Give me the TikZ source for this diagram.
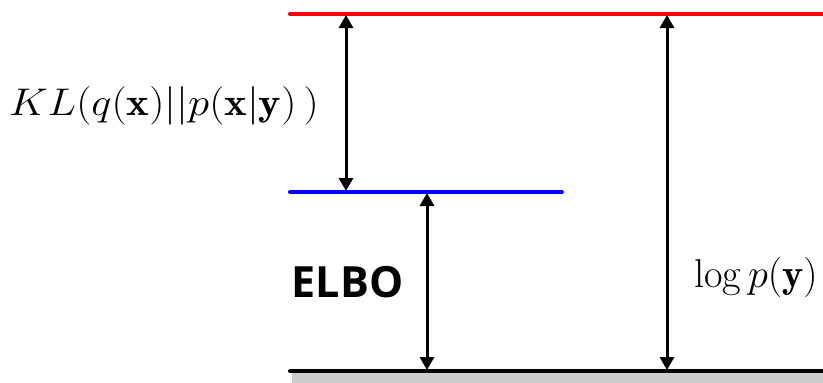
\documentclass[tikz,border=0pt]{standalone}
\usepackage{fontspec}
\newfontfamily\elbofont{Open Sans}
\usetikzlibrary{arrows.meta}
\begin{document}
\begin{tikzpicture}[x=1pt,y=-1pt,
  level/.style={line width=4pt,line cap=round},
  dimarrow/.style={line width=3pt,{Triangle[length=13pt,width=14pt]}-{Triangle[length=13pt,width=14pt]}, shorten <=1pt, shorten >=1pt},
  lbl/.style={inner sep=0pt,anchor=base}]
\useasboundingbox (0,0) rectangle (823,383);
\fill[gray!40] (292,373) rectangle (823,383);
\coordinate (rL) at (290,14); \coordinate (rR) at (823,14);
\coordinate (bL) at (290,192); \coordinate (bR) at (562,192);
\coordinate (gL) at (290,371); \coordinate (gR) at (823,371);
\draw[level,red] (rL) -- (rR);
\draw[level,blue] (bL) -- (bR);
\draw[level,black] (gL) -- (gR);
\coordinate (a1t) at (346,14); \coordinate (a1b) at (346,192);
\coordinate (a2t) at (427,192); \coordinate (a2b) at (427,371);
\coordinate (a3t) at (667,14); \coordinate (a3b) at (667,371);
\draw[dimarrow] (a1t) -- (a1b);
\draw[dimarrow] (a2t) -- (a2b);
\draw[dimarrow] (a3t) -- (a3b);
\node[lbl] (kl) at (164,115) {\scalebox{1.72}[1.55]{\Huge$KL(q(\mathbf{x})||p(\mathbf{x}|\mathbf{y})\,)$}};
\node[lbl] (elbo) at (347.5,297) {\fontsize{43}{50}\selectfont\elbofont\bfseries ELBO};
\node[lbl] (logp) at (756,287) {\scalebox{1.62}{\Huge$\log p(\mathbf{y})$}};
\end{tikzpicture}
\end{document}
